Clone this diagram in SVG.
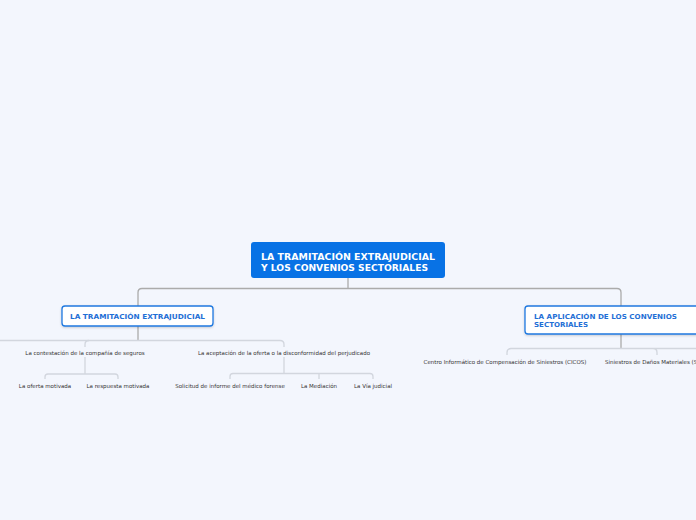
<svg xmlns="http://www.w3.org/2000/svg" width="696" height="520" viewBox="0 0 696 520">
<defs>
<style>
.bg{fill:#f3f6fd}
.main{fill:#0872e5}
.mt{fill:#ffffff;font-family:"DejaVu Sans",Verdana,sans-serif;font-weight:bold;font-size:8.8px}
.sub{fill:#ffffff;stroke:#1f78e0;stroke-width:1.3}
.st{fill:#1f6fd6;font-family:"DejaVu Sans",Verdana,sans-serif;font-weight:bold;font-size:6.8px}
.lt{fill:#333333;font-family:"DejaVu Sans",Verdana,sans-serif;font-size:5.5px}
.c1{fill:none;stroke:#ababab;stroke-width:1.3}
.c2{fill:none;stroke:#d2d6de;stroke-width:1.3}
</style>
<filter id="sh" x="-10%" y="-20%" width="120%" height="150%">
<feDropShadow dx="0" dy="1" stdDeviation="1" flood-color="#000" flood-opacity="0.18"/>
</filter>
</defs>
<rect class="bg" x="0" y="0" width="696" height="520"/>
<g id="connectors">
<path class="c1" d="M348,278 V288.5 M138,306 V292.5 Q138,288.5 142,288.5 H617 Q621,288.5 621,292.5 V306"/>
<path class="c1" d="M138,326 V340"/>
<path class="c2" d="M0,340.5 H280 Q284,340.5 284,344.5 V347"/>
<path class="c2" d="M89,340.5 Q85,340.5 85,344.5 V347"/>
<path class="c2" d="M85,357 V374"/>
<path class="c2" d="M45,379 V377 Q45,374 48,374 H115 Q118,374 118,377 V379"/>
<path class="c2" d="M284,357 V373.5"/>
<path class="c2" d="M230,379 V376.5 Q230,373.5 233,373.5 H370 Q373,373.5 373,376.5 V379 M319,373.5 V379"/>
<path class="c1" d="M621,334 V348.5"/>
<path class="c2" d="M507,355 V352.5 Q507,348.5 511,348.5 H696 M653,348.5 Q657,348.5 657,352.5 V355"/>
</g>
<g id="root">
<rect class="main" x="251" y="242" width="194" height="36" rx="3"/>
<text class="mt" x="261" y="259.5" textLength="174" lengthAdjust="spacingAndGlyphs">LA TRAMITACIÓN EXTRAJUDICIAL</text>
<text class="mt" x="261" y="270.5" textLength="167" lengthAdjust="spacingAndGlyphs">Y LOS CONVENIOS SECTORIALES</text>
</g>
<g id="n-tramitacion">
<rect class="sub" x="62" y="306" width="151" height="20" rx="3" filter="url(#sh)"/>
<text class="st" x="70" y="318.5" textLength="135" lengthAdjust="spacingAndGlyphs">LA TRAMITACIÓN EXTRAJUDICIAL</text>
</g>
<g id="n-aplicacion">
<rect class="sub" x="525" y="306" width="180" height="28" rx="3" filter="url(#sh)"/>
<text class="st" x="534" y="318.5" textLength="143" lengthAdjust="spacingAndGlyphs">LA APLICACIÓN DE LOS CONVENIOS</text>
<text class="st" x="534" y="327" textLength="54" lengthAdjust="spacingAndGlyphs">SECTORIALES</text>
</g>
<g id="n-contestacion"><text class="lt" x="85" y="354.5" text-anchor="middle">La contestación de la compañía de seguros</text></g>
<g id="n-aceptacion"><text class="lt" x="284" y="354.5" text-anchor="middle">La aceptación de la oferta o la disconformidad del perjudicado</text></g>
<g id="n-oferta"><text class="lt" x="45" y="387.5" text-anchor="middle">La oferta motivada</text></g>
<g id="n-respuesta"><text class="lt" x="118" y="387.5" text-anchor="middle">La respuesta motivada</text></g>
<g id="n-solicitud"><text class="lt" x="230" y="387.5" text-anchor="middle">Solicitud de informe del médico forense</text></g>
<g id="n-mediacion"><text class="lt" x="319" y="387.5" text-anchor="middle">La Mediación</text></g>
<g id="n-via"><text class="lt" x="373" y="387.5" text-anchor="middle">La Vía judicial</text></g>
<g id="n-cicos"><text class="lt" x="505" y="363.5" text-anchor="middle">Centro Informático de Compensación de Siniestros (CICOS)</text></g>
<g id="n-sdm"><text class="lt" x="605" y="363.5">Siniestros de Daños Materiales (SDM)</text></g>
</svg>
